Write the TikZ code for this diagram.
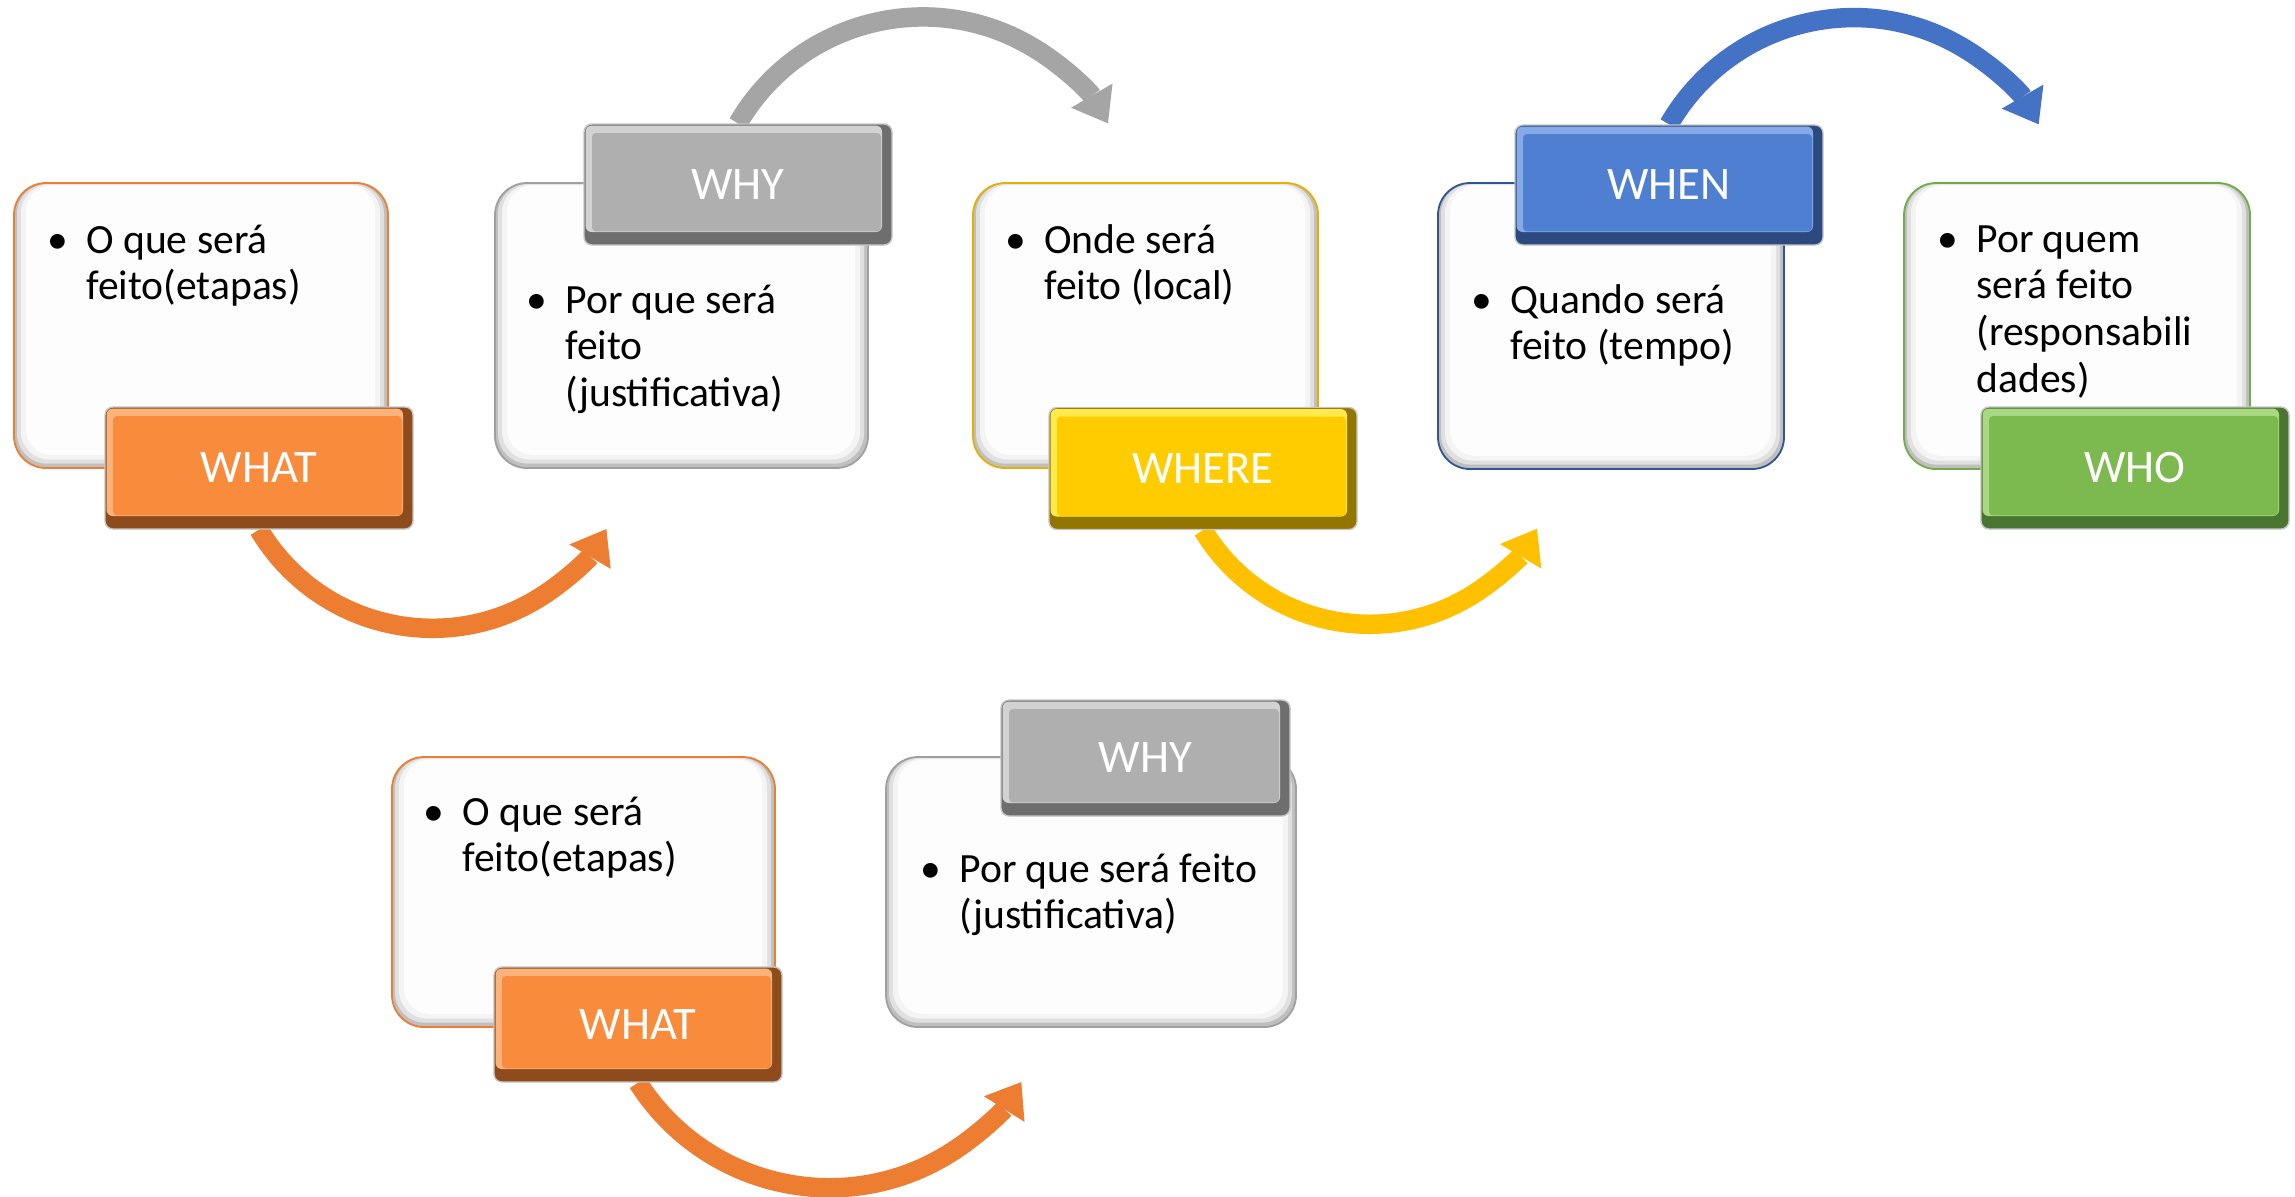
\documentclass[tikz,border=0pt]{standalone}
\usepackage{fontspec}
\setmainfont{Carlito}
\usetikzlibrary{arrows.meta}
\pgfdeclarelayer{bg}
\pgfsetlayers{bg,main}
\definecolor{orangearr}{HTML}{ED7D31}
\definecolor{orangeline}{HTML}{ED7D31}
\definecolor{orangemain}{HTML}{F88B3C}
\definecolor{orangelight}{HTML}{FBB37B}
\definecolor{orangedark}{HTML}{8E4B1B}
\definecolor{grayarr}{HTML}{A5A5A5}
\definecolor{grayline}{HTML}{A0A0A0}
\definecolor{graymain}{HTML}{AFAFAF}
\definecolor{graylight}{HTML}{D2D2D2}
\definecolor{graydark}{HTML}{6E6E6E}
\definecolor{yellowarr}{HTML}{FFC000}
\definecolor{yellowline}{HTML}{E6B000}
\definecolor{yellowmain}{HTML}{FFCC00}
\definecolor{yellowlight}{HTML}{FFEA4D}
\definecolor{yellowdark}{HTML}{937600}
\definecolor{bluearr}{HTML}{4472C4}
\definecolor{blueline}{HTML}{2F5597}
\definecolor{bluemain}{HTML}{4F7FD1}
\definecolor{bluelight}{HTML}{86AAE8}
\definecolor{bluedark}{HTML}{2D4A80}
\definecolor{greenline}{HTML}{70AD47}
\definecolor{greenmain}{HTML}{7CB94E}
\definecolor{greenlight}{HTML}{A8D882}
\definecolor{greendark}{HTML}{4A7530}
\definecolor{boxwhite}{HTML}{FDFDFD}
\newcommand{\mybul}{\llap{\textbullet\hspace{9pt}}}
\newcommand{\bodyfont}{\fontsize{20.8pt}{23.4pt}\selectfont}
\newcommand{\labelfont}{\fontsize{23.3pt}{26pt}\selectfont}
\tikzset{
  wbox/.style={draw=#1line, line width=0.9pt, rounded corners=16pt, fill=gray!50, inner sep=0pt,
    path picture={
      \fill[gray!24, rounded corners=15pt] ([xshift=1.5pt,yshift=-0.4pt]path picture bounding box.north west) rectangle ([xshift=-2pt,yshift=2.2pt]path picture bounding box.south east);
      \fill[gray!9, rounded corners=14pt] ([xshift=3.5pt,yshift=-0.8pt]path picture bounding box.north west) rectangle ([xshift=-4pt,yshift=4.2pt]path picture bounding box.south east);
      \fill[boxwhite, rounded corners=13pt] ([xshift=6pt,yshift=-1.2pt]path picture bounding box.north west) rectangle ([xshift=-6.5pt,yshift=6.5pt]path picture bounding box.south east);
    }},
  lbl/.style={fill=#1dark, draw=gray!45, line width=0.7pt, rounded corners=4pt, inner sep=0pt,
    text=white, font=\labelfont, minimum width=154pt, minimum height=61pt,
    path picture={
      \fill[#1light, rounded corners=3pt] ([xshift=0.8pt,yshift=-0.8pt]path picture bounding box.north west) rectangle ([xshift=-5pt,yshift=6.5pt]path picture bounding box.south east);
      \fill[#1main, rounded corners=2pt] ([xshift=4pt,yshift=-4.5pt]path picture bounding box.north west) rectangle ([xshift=-5.5pt,yshift=6.8pt]path picture bounding box.south east);
    }},
  txt/.style={anchor=base west, inner sep=0pt, font=\bodyfont, text=black},
  arr/.style={draw=#1, line width=9.75pt, -{Triangle[width=24pt,length=16pt,line width=0pt]}},
}
\begin{document}
\begin{tikzpicture}[x=0.5pt,y=0.5pt]
\path[use as bounding box] (0,0) rectangle (2295,-1196);
% white boxes
\node[wbox=orange, minimum width=187pt, minimum height=142.5pt] (b1) at (201,-325.5) {};
\node[wbox=gray, minimum width=186.5pt, minimum height=142.5pt] (b2) at (681.5,-325.5) {};
\node[wbox=yellow, minimum width=172.5pt, minimum height=142.5pt] (b3) at (1145.5,-325.5) {};
\node[wbox=blue, minimum width=173pt, minimum height=143pt] (b4) at (1611,-326) {};
\node[wbox=green, minimum width=173pt, minimum height=143pt] (b5) at (2077,-326) {};
\node[wbox=orange, minimum width=191.5pt, minimum height=135pt] (b6) at (583.5,-892) {};
\node[wbox=gray, minimum width=205pt, minimum height=135pt] (b7) at (1091,-892) {};
% texts
\node[txt] (t1) at (86,-253) {\vtop{\hbox{\mybul O que será}\hbox{feito(etapas)}}};
\node[txt] (t2) at (565,-313) {\vtop{\hbox{\mybul Por que será}\hbox{feito}\hbox{(justificativa)}}};
\node[txt] (t3) at (1044,-253) {\vtop{\hbox{\mybul Onde será}\hbox{feito (local)}}};
\node[txt] (t4) at (1510,-313) {\vtop{\hbox{\mybul Quando será}\hbox{feito (tempo)}}};
\node[txt] (t5) at (1976,-252) {\vtop{\hbox{\mybul Por quem}\hbox{será feito}\hbox{(responsabili}\hbox{dades)}}};
\node[txt] (t6) at (462,-825) {\vtop{\hbox{\mybul O que será}\hbox{feito(etapas)}}};
\node[txt] (t7) at (959,-882) {\vtop{\hbox{\mybul Por que será feito}\hbox{(justificativa)}}};
% labels
\node[lbl=orange] (l1) at (259,-468) {WHAT};
\node[lbl=gray, minimum height=60.5pt] (l2) at (738,-184.5) {WHY};
\node[lbl=yellow] (l3) at (1203,-468.5) {WHERE};
\node[lbl=blue, minimum height=60pt] (l4) at (1669,-185) {WHEN};
\node[lbl=green] (l5) at (2135,-468) {WHO};
\node[lbl=orange, minimum width=144pt, minimum height=57.5pt] (l6) at (638,-1024.5) {WHAT};
\node[lbl=gray, minimum width=144.5pt, minimum height=58pt] (l7) at (1145.5,-758) {WHY};
% arrows
\begin{pgfonlayer}{bg}
\fill[white] (0,0) rectangle (2295,-1196);
\draw[arr=orangearr] (l1.south) arc[start angle=210.8, end angle=329.4, radius=101pt];
\draw[arr=grayarr] (l2.north) arc[start angle=149.8, end angle=30.2, radius=107pt];
\draw[arr=yellowarr] (l3.south) arc[start angle=211.1, end angle=329.4, radius=97.25pt];
\draw[arr=bluearr] (l4.north) arc[start angle=150, end angle=30, radius=106.7pt];
\draw[arr=orangearr] (l6.south) arc[start angle=212.5, end angle=327.7, radius=113.5pt];
\end{pgfonlayer}
\end{tikzpicture}
\end{document}
